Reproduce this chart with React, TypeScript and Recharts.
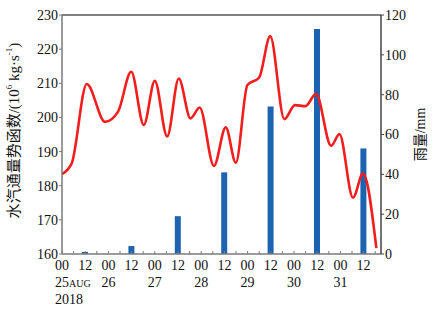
import React from 'react';
import { ComposedChart, Line, Bar, XAxis, YAxis, ReferenceLine } from 'recharts';

// Time in hours since 00 UTC 25 Aug 2018
const fluxHours = [0, 3, 5, 12.8, 22.3, 29, 35.8, 42.3, 48, 54.4, 60.4, 66.5, 71.2, 78.6, 84.7, 89.9, 95.9, 102, 107.7, 115, 120.5, 125.9, 131.4, 139.2, 143.5, 150.5, 155.7, 162.6];
const fluxValues = [183.4, 184.8, 186.5, 209.8, 198.7, 201.7, 213.4, 197.8, 210.7, 194.4, 211.4, 199.7, 202.9, 185.8, 197.1, 186.7, 209.5, 211.7, 223.8, 199.5, 203.6, 203.3, 206.9, 191.7, 195.1, 176.5, 183.6, 161.7];
const rainHours = [12, 36, 60, 84, 108, 132, 156];
const rainValues = [1, 4, 19, 41, 74, 113, 53];
const hourTicks = [0, 6, 12, 18, 24, 30, 36, 42, 48, 54, 60, 66, 72, 78, 84, 90, 96, 102, 108, 114, 120, 126, 132, 138, 144, 150, 156, 162];
const dayLabels = ['25', '26', '27', '28', '29', '30', '31'];
const leftTicks = [160, 170, 180, 190, 200, 210, 220, 230];
const rightTicks = [0, 20, 40, 60, 80, 100, 120];

const rainData = rainHours.map((h, i) => ({ hour: h, rain: rainValues[i] }));
const fluxData = fluxHours.map((h, i) => ({ hour: h, flux: fluxValues[i] }));

const FONT = '"Liberation Serif", "Times New Roman", "Noto Sans CJK SC", serif';
const AXIS = '#7a7a7a';

const XTick = (props: any) => {
  const { x, y, payload } = props;
  const h = payload.value as number;
  const major = h % 12 === 0;
  const isDay = h % 24 === 0;
  const dayIdx = h / 24;
  return (
    <g>
      <line x1={x} x2={x} y1={y} y2={y - 3} stroke={AXIS} strokeWidth={1} />
      {major && (
        <text x={x} y={y + 16} textAnchor="middle" fontFamily={FONT} fontSize={14} fill="#111">
          {isDay ? '00' : '12'}
        </text>
      )}
      {isDay && dayIdx === 0 && (
        <text x={x - 7} y={y + 33} textAnchor="start" fontFamily={FONT} fontSize={14} fill="#111">
          {dayLabels[0]}
          <tspan fontSize={10}>AUG</tspan>
        </text>
      )}
      {isDay && dayIdx > 0 && dayIdx < dayLabels.length && (
        <text x={x} y={y + 33} textAnchor="middle" fontFamily={FONT} fontSize={14} fill="#111">
          {dayLabels[dayIdx]}
        </text>
      )}
      {isDay && dayIdx === 0 && (
        <text x={x - 7} y={y + 50} textAnchor="start" fontFamily={FONT} fontSize={14} fill="#111">
          2018
        </text>
      )}
    </g>
  );
};

const LeftLabel = (props: any) => {
  const vb = props.viewBox || { x: 0, y: 15, width: 62, height: 239 };
  const cx = vb.x + 14;
  const cy = vb.y + vb.height / 2 - 4;
  return (
    <text
      x={cx}
      y={cy}
      transform={`rotate(-90 ${cx} ${cy})`}
      textAnchor="middle"
      dominantBaseline="central"
      fontFamily={FONT}
      fontSize={15}
      fill="#111"
    >
      水汽通量势函数/(10
      <tspan fontSize={9} dy={-5}>6</tspan>
      <tspan dy={5}> kg·s</tspan>
      <tspan fontSize={9} dy={-5}>-1</tspan>
      <tspan dy={5}>)</tspan>
    </text>
  );
};

const RightLabel = (props: any) => {
  const vb = props.viewBox || { x: 381, y: 15, width: 56, height: 239 };
  const cx = vb.x + 39;
  const cy = vb.y + vb.height / 2;
  return (
    <text
      x={cx}
      y={cy}
      transform={`rotate(-90 ${cx} ${cy})`}
      textAnchor="middle"
      dominantBaseline="central"
      fontFamily={FONT}
      fontSize={14}
      fill="#111"
    >
      雨量/mm
    </text>
  );
};

export default function App() {
  return (
    <div style={{ position: 'absolute', left: 0, top: 0, width: 437, height: 309, background: '#fff' }}>
      <ComposedChart
        width={437}
        height={309}
        data={rainData}
        margin={{ top: 15, right: 0, bottom: 0, left: 0 }}
      >
        <XAxis
          dataKey="hour"
          type="number"
          domain={[0, 165]}
          ticks={hourTicks}
          interval={0}
          height={55}
          tickLine={false}
          tickSize={0}
          tickMargin={0}
          axisLine={{ stroke: AXIS, strokeWidth: 1.5 }}
          tick={<XTick />}
        />
        <XAxis xAxisId="line" dataKey="hour" type="number" domain={[0, 165]} hide />
        <YAxis
          yAxisId="left"
          orientation="left"
          domain={[160, 230]}
          ticks={leftTicks}
          interval={0}
          width={62}
          tickSize={3}
          tickMargin={1}
          allowDataOverflow
          axisLine={{ stroke: AXIS, strokeWidth: 1.5 }}
          tickLine={{ stroke: AXIS }}
          tick={{ fontFamily: FONT, fontSize: 14, fill: '#111' }}
          label={{ content: <LeftLabel /> } as any}
        />
        <YAxis
          yAxisId="right"
          orientation="right"
          domain={[0, 120]}
          ticks={rightTicks}
          interval={0}
          width={56}
          tickSize={3}
          tickMargin={1}
          axisLine={{ stroke: '#444', strokeWidth: 1.5 }}
          tickLine={{ stroke: '#444' }}
          tick={{ fontFamily: FONT, fontSize: 14, fill: '#111' }}
          label={{ content: <RightLabel /> } as any}
        />
        <ReferenceLine yAxisId="left" y={230} stroke="#555" strokeWidth={1.5} />
        <Bar yAxisId="right" dataKey="rain" fill="#1c64b2" barSize={6} isAnimationActive={false} />
        <Line
          yAxisId="left"
          xAxisId="line"
          data={fluxData}
          dataKey="flux"
          type="monotone"
          stroke="#f21d1d"
          strokeWidth={2.6}
          dot={false}
          isAnimationActive={false}
        />
      </ComposedChart>
    </div>
  );
}
